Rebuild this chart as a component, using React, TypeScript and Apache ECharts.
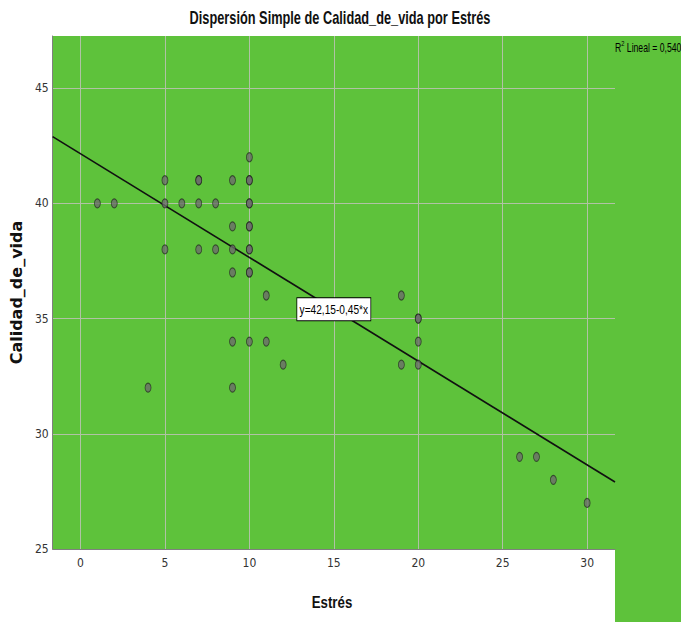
import React, { useEffect, useRef } from "react";
import * as echarts from "echarts";

// Estrés (x) and Calidad_de_vida (y), one entry per respondent
const estres = [
  1, 2, 4, 5, 5, 5, 6, 7, 7, 7, 7, 8, 8, 9, 9, 9, 9, 9, 9,
  10, 10, 10, 10, 10, 10, 10, 10, 10, 10, 10, 10,
  11, 11, 12, 19, 19, 20, 20, 20, 20, 26, 27, 28, 30,
];
const calidad = [
  40, 40, 32, 41, 40, 38, 40, 41, 41, 40, 38, 40, 38, 41, 39, 38, 37, 34, 32,
  42, 41, 41, 40, 40, 39, 39, 38, 38, 37, 37, 34,
  36, 34, 33, 36, 33, 35, 35, 34, 33, 29, 29, 28, 27,
];

// Fitted linear model
const intercept = 42.15;
const slope = -0.45;
const r2 = "0,540";
const equationAtX = 15;

const xRange = [-1.65, 31.65];
const yRange = [25, 47.26];

const COND = '"DejaVu Sans Condensed", "Liberation Sans Narrow", "Arial Narrow", sans-serif';
const SANS = '"Liberation Sans", Arial, sans-serif';
const GREEN = "#5ec23b";

const fmt = (v: number) => v.toFixed(2).replace(".", ",");

export default function App() {
  const ref = useRef<HTMLDivElement>(null);

  useEffect(() => {
    if (!ref.current) return;
    const chart = echarts.init(ref.current, null, { renderer: "svg" });
    const points = estres.map((x, i) => [x, calidad[i]]);
    const fitLine = xRange.map((x) => [x, intercept + slope * x]);
    const equation = `y=${fmt(intercept)}-${fmt(-slope)}*x`;

    const tickFormatter = (v: number) => (Math.abs(v % 5) < 1e-6 ? String(v) : "");

    chart.setOption({
      animation: false,
      backgroundColor: "#ffffff",
      grid: {
        left: 49,
        top: 36,
        right: 66,
        bottom: 73,
        show: true,
        backgroundColor: GREEN,
        borderWidth: 0,
      },
      xAxis: {
        type: "value",
        min: xRange[0],
        max: xRange[1],
        splitNumber: 7,
        axisLine: { show: true, onZero: false, lineStyle: { color: "#7f7f7f", width: 1 } },
        axisTick: { show: false },
        axisLabel: {
          fontFamily: COND,
          fontSize: 12,
          color: "#333",
          margin: 8,
          showMinLabel: false,
          showMaxLabel: false,
          formatter: tickFormatter,
        },
        splitLine: {
          show: true,
          showMinLine: false,
          showMaxLine: false,
          lineStyle: { color: "#b0c2a5", width: 1 },
        },
      },
      yAxis: {
        type: "value",
        min: yRange[0],
        max: yRange[1],
        splitNumber: 5,
        name: "Calidad_de_vida",
        nameLocation: "middle",
        nameGap: 24,
        nameTextStyle: {
          fontFamily: '"DejaVu Sans", sans-serif',
          fontSize: 16,
          fontWeight: "bold",
          color: "#111",
        },
        axisLine: { show: true, onZero: false, lineStyle: { color: "#7f7f7f", width: 1 } },
        axisTick: { show: false },
        axisLabel: {
          fontFamily: COND,
          fontSize: 12,
          color: "#333",
          margin: 4,
          showMaxLabel: false,
          formatter: tickFormatter,
        },
        splitLine: {
          show: true,
          showMinLine: false,
          showMaxLine: false,
          lineStyle: { color: "#b0c2a5", width: 1 },
        },
      },
      series: [
        {
          type: "line",
          data: fitLine,
          symbol: "none",
          lineStyle: { color: "#111", width: 1.6 },
          z: 2,
        },
        {
          type: "scatter",
          data: points,
          symbol: "circle",
          symbolSize: [6, 9],
          itemStyle: {
            color: "#6b6b6b",
            borderColor: "rgba(20,20,20,0.75)",
            borderWidth: 1,
          },
          z: 3,
        },
      ],
    });

    // place the equation box on the fitted line, using the axes' own scales
    const [ex, ey] = chart.convertToPixel({ gridIndex: 0 }, [
      equationAtX,
      intercept + slope * equationAtX,
    ]) as number[];

    chart.setOption({
      graphic: [
        {
          id: "legendPanel",
          type: "rect",
          left: 615,
          top: 36,
          shape: { width: 66, height: 586 },
          style: { fill: GREEN },
          z: 0,
        },
        {
          id: "title",
          type: "text",
          x: 340,
          y: 18,
          scaleX: 0.71,
          z: 10,
          style: {
            text: "Dispersión Simple de Calidad_de_vida por Estrés",
            font: `bold 18px ${SANS}`,
            fill: "#111",
            align: "center",
            verticalAlign: "middle",
          },
        },
        {
          id: "xName",
          type: "text",
          x: 332,
          y: 602,
          scaleX: 0.78,
          z: 10,
          style: {
            text: "Estrés",
            font: `bold 17px ${SANS}`,
            fill: "#111",
            align: "center",
            verticalAlign: "middle",
          },
        },
        {
          id: "r2",
          type: "text",
          x: 615,
          y: 39,
          scaleX: 0.72,
          z: 10,
          style: {
            text: `{s|R}{p|2}{s| Lineal = ${r2}}`,
            rich: {
              s: { fontFamily: SANS, fontSize: 12, fill: "#000", verticalAlign: "bottom", lineHeight: 15 },
              p: { fontFamily: SANS, fontSize: 8, fill: "#000", verticalAlign: "top", lineHeight: 15 },
            },
          },
        },
        {
          id: "equation",
          type: "text",
          x: ex,
          y: ey,
          scaleX: 0.78,
          z: 10,
          style: {
            text: equation,
            font: `13px ${SANS}`,
            fill: "#000",
            align: "center",
            verticalAlign: "middle",
            backgroundColor: "#fff",
            borderColor: "#000",
            borderWidth: 1,
            padding: [5, 3, 4, 3],
          },
        },
      ],
    });
    return () => chart.dispose();
  }, []);

  return (
    <div
      ref={ref}
      style={{ position: "absolute", left: 0, top: 0, width: 681, height: 622 }}
    />
  );
}
